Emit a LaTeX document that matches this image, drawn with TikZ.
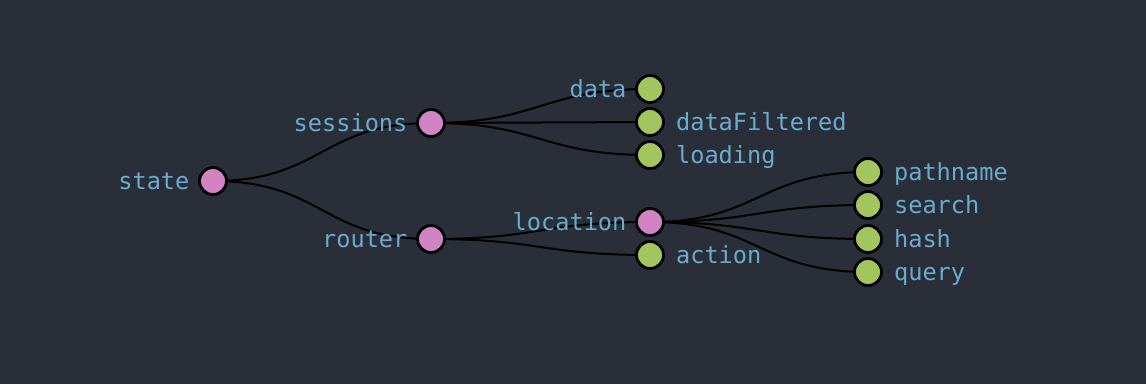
\documentclass[tikz,border=0pt]{standalone}
\usepackage{fontspec}
\setmonofont{DejaVu Sans Mono}
\usetikzlibrary{backgrounds}
\definecolor{bgc}{HTML}{2A2E39}
\definecolor{inner}{HTML}{D183C4}
\definecolor{leaf}{HTML}{A2C55E}
\definecolor{lbl}{HTML}{6AACCE}
\tikzset{
  dot/.style={circle, draw=black, line width=2.8pt, minimum size=27pt, inner sep=0pt},
  branch/.style={dot, fill=inner},
  tip/.style={dot, fill=leaf},
  lblL/.style={text=lbl, font=\ttfamily\fontsize{23.6}{26}\selectfont, anchor=mid east, inner sep=0pt, xshift=-8.5pt, yshift=-6.5pt},
  lblR/.style={text=lbl, font=\ttfamily\fontsize{23.6}{26}\selectfont, anchor=mid west, inner sep=0pt, xshift=11pt, yshift=-6.5pt},
  link/.style={draw=black, line width=2pt}
}
% horizontal tree link: control points half way across, level with each end
\newcommand{\treelink}[2]{%
  \path[link] (#1.center) .. controls ([xshift=109pt]#1.center)
    and ([xshift=-109pt]#2.center) .. (#2.center);}
\begin{document}
\begin{tikzpicture}[x=1pt, y=-1pt]
  \useasboundingbox (0,0) rectangle (1146,384);
  % nodes
  \node[branch] (state) at (213,181) {};
  \node[branch] (sessions) at (431,123) {};
  \node[branch] (router) at (431,239) {};
  \node[tip] (data) at (650,89) {};
  \node[tip] (dataFiltered) at (650,122) {};
  \node[tip] (loading) at (650,155) {};
  \node[branch] (location) at (650,222) {};
  \node[tip] (action) at (650,255) {};
  \node[tip] (pathname) at (868,172) {};
  \node[tip] (search) at (868,205) {};
  \node[tip] (hash) at (868,239) {};
  \node[tip] (query) at (868,272) {};
  % labels
  \node[lblL] (stateL) at (state.west) {state};
  \node[lblL] (sessionsL) at (sessions.west) {sessions};
  \node[lblL] (routerL) at (router.west) {router};
  \node[lblL] (dataL) at (data.west) {data};
  \node[lblR] (dataFilteredL) at (dataFiltered.east) {dataFiltered};
  \node[lblR] (loadingL) at (loading.east) {loading};
  \node[lblL] (locationL) at (location.west) {location};
  \node[lblR] (actionL) at (action.east) {action};
  \node[lblR] (pathnameL) at (pathname.east) {pathname};
  \node[lblR] (searchL) at (search.east) {search};
  \node[lblR] (hashL) at (hash.east) {hash};
  \node[lblR] (queryL) at (query.east) {query};
  % links behind the dots
  \begin{scope}[on background layer]
    \fill[bgc] (0,0) rectangle (1146,384);
    \treelink{state}{sessions}
    \treelink{state}{router}
    \treelink{sessions}{data}
    \treelink{sessions}{dataFiltered}
    \treelink{sessions}{loading}
    \treelink{router}{location}
    \treelink{router}{action}
    \treelink{location}{pathname}
    \treelink{location}{search}
    \treelink{location}{hash}
    \treelink{location}{query}
  \end{scope}
\end{tikzpicture}
\end{document}
